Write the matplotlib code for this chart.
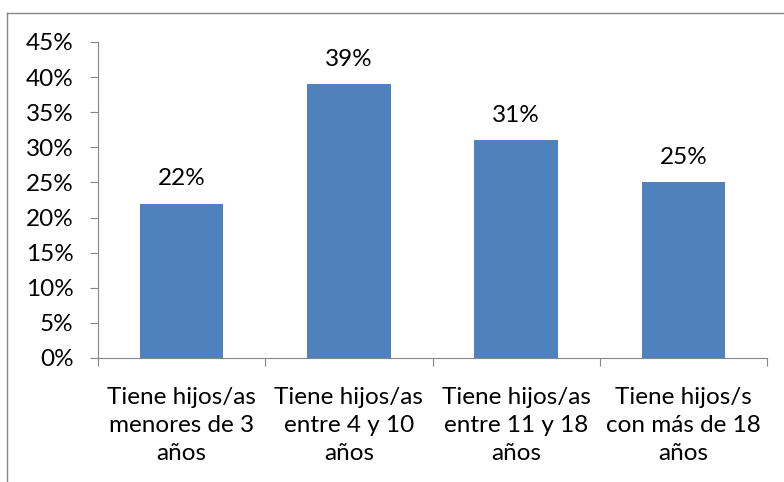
import matplotlib
matplotlib.use("Agg")
import matplotlib.pyplot as plt
from matplotlib.lines import Line2D
from matplotlib.ticker import MultipleLocator, FuncFormatter

categories = ["Tiene hijos/as\nmenores de 3\naños",
              "Tiene hijos/as\nentre 4 y 10\naños",
              "Tiene hijos/as\nentre 11 y 18\naños",
              "Tiene hijos/s\ncon más de 18\naños"]
values = [22, 39, 31, 25]
labels = ["22%", "39%", "31%", "25%"]

FS = 17.5
plt.rcParams['font.family'] = ['Lato', 'DejaVu Sans']
fig = plt.figure(figsize=(7.84, 4.82), dpi=100)
ax = fig.add_axes([98/784, 1-358/482, (767-98)/784, (358-42)/482])

x = list(range(len(categories)))
ax.bar(x, values, width=0.5, color="#4F81BD", zorder=2)
for xi, v, lab in zip(x, values, labels):
    ax.text(xi, v + 2.6, lab, ha="center", va="baseline", fontsize=FS, color="#000000")

ax.set_xlim(-0.5, len(categories) - 0.5)
ax.set_ylim(0, 45)
ax.yaxis.set_major_locator(MultipleLocator(5))
ax.yaxis.set_major_formatter(FuncFormatter(lambda v, p: f"{int(round(v))}%"))
ax.set_xticks([i - 0.5 for i in range(len(categories) + 1)])
ax.set_xticklabels([])
ax.set_xticks(x, minor=True)
ax.set_xticklabels(categories, minor=True, fontsize=FS, linespacing=1.42)
ax.tick_params(axis="x", which="minor", length=0, pad=21)
ax.tick_params(axis="x", which="major", length=5.5, color="#868686", direction="out")
ax.tick_params(axis="y", length=5.5, color="#868686", labelsize=FS, pad=12)
for s in ["top", "right"]:
    ax.spines[s].set_visible(False)
for s in ["left", "bottom"]:
    ax.spines[s].set_color("#868686")

# outer chart frame (left and top visible)
fig.add_artist(Line2D([7/784, 7/784], [0, 1-13/482], transform=fig.transFigure, color="#868686", lw=1))
fig.add_artist(Line2D([7/784, 1], [1-13/482, 1-13/482], transform=fig.transFigure, color="#868686", lw=1))

fig.savefig("out.png", dpi=100)
